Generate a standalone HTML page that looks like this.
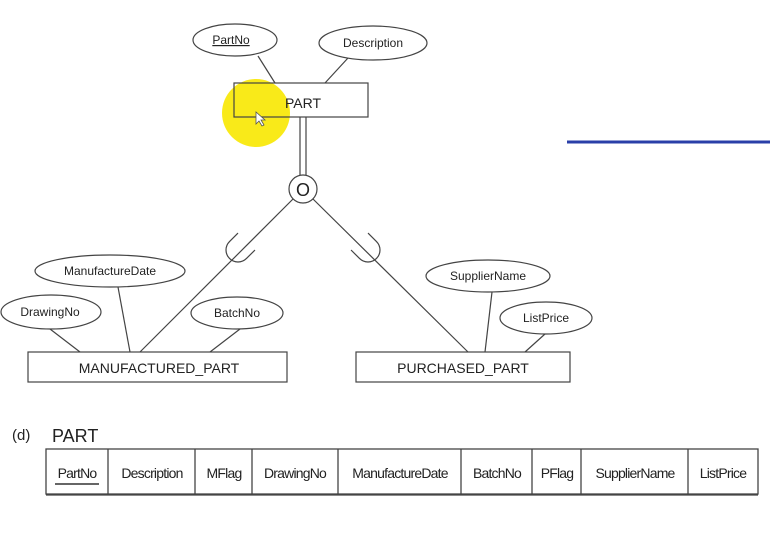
<!DOCTYPE html>
<html><head><style>
html,body{margin:0;padding:0;background:#fff;width:770px;height:536px;overflow:hidden}
svg text{font-family:"Liberation Sans",sans-serif;fill:#222}
</style></head><body>
<svg width="770" height="536" viewBox="0 0 770 536" xmlns="http://www.w3.org/2000/svg">
<g stroke="#444" stroke-width="1.2" fill="none">
<line x1="258" y1="56" x2="275" y2="83"/>
<line x1="348" y1="58" x2="325" y2="83"/>
<line x1="300" y1="117" x2="300" y2="175"/>
<line x1="306" y1="117" x2="306" y2="175"/>
<line x1="293" y1="199" x2="140" y2="352"/>
<line x1="313" y1="199" x2="468" y2="352"/>
<line x1="118" y1="287" x2="130" y2="352"/>
<line x1="50" y1="329" x2="80" y2="352"/>
<line x1="240" y1="329" x2="210" y2="352"/>
<line x1="492" y1="292" x2="485" y2="352"/>
<line x1="545" y1="334" x2="525" y2="352"/>
</g>
<circle cx="256" cy="113" r="34" fill="#f8e800" opacity="0.9"/>
<g fill="#fff" stroke="#444" stroke-width="1.2">
<rect x="234" y="83" width="134" height="34" fill="none"/>
<circle cx="303" cy="189" r="14"/>
<rect x="28" y="352" width="259" height="30"/>
<rect x="356" y="352" width="214" height="30"/>
<ellipse cx="235" cy="40" rx="42" ry="16"/>
<ellipse cx="373" cy="43" rx="54" ry="17"/>
<ellipse cx="110" cy="271" rx="75" ry="16"/>
<ellipse cx="51" cy="312" rx="50" ry="17"/>
<ellipse cx="237" cy="313" rx="46" ry="16"/>
<ellipse cx="488" cy="276" rx="62" ry="16"/>
<ellipse cx="546" cy="318" rx="46" ry="16"/>
</g>
<g stroke="#444" stroke-width="1.2" fill="none">
<path d="M-12,-12 L-12,0 A12,12 0 0 0 12,0 L12,-12" transform="translate(238,250) rotate(45)"/>
<path d="M-12,-12 L-12,0 A12,12 0 0 0 12,0 L12,-12" transform="translate(368,250) rotate(-45)"/>
</g>
<path d="M256,112 l0,12 l3,-3 l3,5 l2,-1 l-3,-5 l4,0 z" fill="#fff" stroke="#555" stroke-width="0.8"/>
<line x1="567" y1="142" x2="770" y2="142" stroke="#2a3fa8" stroke-width="3"/>
<g font-size="12" text-anchor="middle">
<text x="231" y="44" text-decoration="underline">PartNo</text>
<text x="373" y="47">Description</text>
<text x="110" y="275">ManufactureDate</text>
<text x="50" y="316">DrawingNo</text>
<text x="237" y="317">BatchNo</text>
<text x="488" y="280">SupplierName</text>
<text x="546" y="322">ListPrice</text>
<text x="303" y="108" font-size="14">PART</text>
<text x="303" y="196" font-size="18">O</text>
<text x="159" y="373" font-size="14">MANUFACTURED_PART</text>
<text x="463" y="373" font-size="14">PURCHASED_PART</text>
</g>
<text x="12" y="440" font-size="15">(d)</text>
<text x="52" y="442" font-size="18">PART</text>
<g stroke="#444" stroke-width="1.3" fill="none">
<rect x="46" y="449" width="712" height="45"/>
<line x1="46" y1="495" x2="758" y2="495"/>
<line x1="108" y1="449" x2="108" y2="494"/>
<line x1="195" y1="449" x2="195" y2="494"/>
<line x1="252" y1="449" x2="252" y2="494"/>
<line x1="338" y1="449" x2="338" y2="494"/>
<line x1="461" y1="449" x2="461" y2="494"/>
<line x1="532" y1="449" x2="532" y2="494"/>
<line x1="581" y1="449" x2="581" y2="494"/>
<line x1="688" y1="449" x2="688" y2="494"/>
</g>
<g font-size="14" text-anchor="middle" letter-spacing="-0.8">
<text x="77" y="478">PartNo</text>
<line x1="55" y1="484" x2="99" y2="484" stroke="#333" stroke-width="1.5"/>
<text x="152" y="478">Description</text>
<text x="224" y="478">MFlag</text>
<text x="295" y="478">DrawingNo</text>
<text x="400" y="478">ManufactureDate</text>
<text x="497" y="478">BatchNo</text>
<text x="557" y="478">PFlag</text>
<text x="635" y="478">SupplierName</text>
<text x="723" y="478">ListPrice</text>
</g>
</svg>
</body></html>
